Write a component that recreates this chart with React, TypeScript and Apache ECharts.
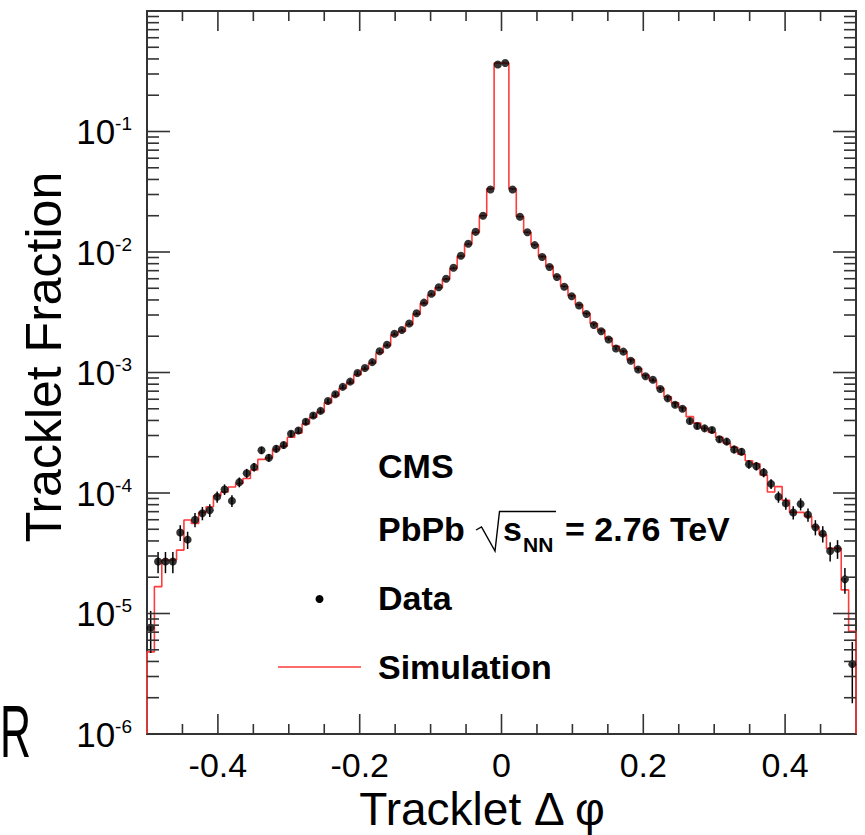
import React, { useEffect, useRef } from "react";
import * as echarts from "echarts";

const X_MIN = -0.5;
const X_MAX = 0.5;
const N_BINS = 96;
const Y_MIN = 1e-6;
const Y_MAX = 1;

const dataValues = [
  7.6e-6, 2.7e-5, 2.7e-5, 2.7e-5, 4.7e-5, 4.1e-5, 6.0e-5, 6.8e-5, 7.2e-5, 9.3e-5,
  1.07e-4, 8.6e-5, 1.23e-4, 1.46e-4, 1.64e-4, 2.26e-4, 1.96e-4, 2.33e-4, 2.5e-4, 3.1e-4,
  3.3e-4, 3.9e-4, 4.4e-4, 4.8e-4, 5.8e-4, 6.6e-4, 7.6e-4, 8.4e-4, 9.9e-4, 1.09e-3,
  1.22e-3, 1.5e-3, 1.7e-3, 2.1e-3, 2.25e-3, 2.55e-3, 3.1e-3, 3.8e-3, 4.5e-3, 5.1e-3,
  6.0e-3, 7.4e-3, 9.3e-3, 1.17e-2, 1.47e-2, 2.0e-2, 3.3e-2, 0.36, 0.37, 3.3e-2,
  1.96e-2, 1.46e-2, 1.14e-2, 9.1e-3, 7.5e-3, 6.2e-3, 5.15e-3, 4.3e-3, 3.6e-3, 3.06e-3,
  2.48e-3, 2.2e-3, 1.88e-3, 1.58e-3, 1.49e-3, 1.25e-3, 1.06e-3, 9.3e-4, 8.7e-4, 7.3e-4,
  6.1e-4, 5.4e-4, 5.0e-4, 3.96e-4, 3.6e-4, 3.44e-4, 3.33e-4, 2.79e-4, 2.67e-4, 2.3e-4,
  2.2e-4, 1.73e-4, 1.67e-4, 1.48e-4, 1.19e-4, 9.3e-5, 8.2e-5, 6.9e-5, 8.1e-5, 6.6e-5,
  5.2e-5, 4.6e-5, 3.3e-5, 3.45e-5, 1.92e-5, 3.8e-6,
];

const dataErrors = [
  2.9e-6, 5.4e-6, 5.4e-6, 5.4e-6, 7.1e-6, 6.7e-6, 8.1e-6, 8.6e-6, 8.8e-6, 1.0e-5,
  1.08e-5, 9.6e-6, 1.15e-5, 1.26e-5, 1.33e-5, 1.56e-5, 1.46e-5, 1.6e-5, 1.64e-5, 1.8e-5,
  1.9e-5, 2.1e-5, 2.2e-5, 2.3e-5, 2.5e-5, 2.7e-5, 2.9e-5, 3.0e-5, 3.3e-5, 3.4e-5,
  3.6e-5, 4.0e-5, 4.3e-5, 4.8e-5, 4.9e-5, 5.3e-5, 5.8e-5, 6.4e-5, 7.0e-5, 7.4e-5,
  8.1e-5, 9.0e-5, 1.0e-4, 1.1e-4, 1.3e-4, 1.5e-4, 1.9e-4, 6.2e-4, 6.3e-4, 1.9e-4,
  1.5e-4, 1.3e-4, 1.1e-4, 1.0e-4, 9.0e-5, 8.2e-5, 7.5e-5, 6.8e-5, 6.2e-5, 5.8e-5,
  5.2e-5, 4.9e-5, 4.5e-5, 4.1e-5, 4.0e-5, 3.7e-5, 3.4e-5, 3.2e-5, 3.1e-5, 2.8e-5,
  2.6e-5, 2.4e-5, 2.3e-5, 2.1e-5, 2.0e-5, 1.9e-5, 1.9e-5, 1.7e-5, 1.7e-5, 1.6e-5,
  1.5e-5, 1.4e-5, 1.3e-5, 1.3e-5, 1.1e-5, 1.0e-5, 9.4e-6, 8.6e-6, 9.4e-6, 8.4e-6,
  7.5e-6, 7.1e-6, 6.0e-6, 6.1e-6, 4.6e-6, 2.0e-6,
];

const simValues = [
  4.8e-6, 1.67e-5, 2.78e-5, 2.78e-5, 3.36e-5, 5.97e-5, 5.6e-5, 6.9e-5, 7.7e-5, 9.5e-5,
  1.02e-4, 1.12e-4, 1.2e-4, 1.32e-4, 1.55e-4, 1.9e-4, 1.95e-4, 2.3e-4, 2.45e-4, 2.9e-4,
  3.15e-4, 3.75e-4, 4.25e-4, 4.7e-4, 5.6e-4, 6.4e-4, 7.4e-4, 8.2e-4, 9.6e-4, 1.07e-3,
  1.2e-3, 1.46e-3, 1.67e-3, 2.05e-3, 2.2e-3, 2.5e-3, 3.05e-3, 3.75e-3, 4.4e-3, 5.05e-3,
  5.95e-3, 7.3e-3, 9.2e-3, 1.16e-2, 1.45e-2, 2.0e-2, 3.35e-2, 0.37, 0.37, 3.35e-2,
  1.97e-2, 1.46e-2, 1.15e-2, 9.2e-3, 7.6e-3, 6.3e-3, 5.2e-3, 4.35e-3, 3.65e-3, 3.1e-3,
  2.55e-3, 2.25e-3, 1.92e-3, 1.65e-3, 1.5e-3, 1.28e-3, 1.08e-3, 9.5e-4, 8.6e-4, 7.4e-4,
  6.3e-4, 5.6e-4, 5.1e-4, 4.3e-4, 3.8e-4, 3.45e-4, 3.2e-4, 2.9e-4, 2.6e-4, 2.4e-4,
  2.1e-4, 1.85e-4, 1.75e-4, 1.41e-4, 1.02e-4, 1.13e-4, 8.7e-5, 6.9e-5, 6.9e-5, 6.4e-5,
  5.25e-5, 4.5e-5, 3.47e-5, 3.47e-5, 1.57e-5, 7.1e-6,
];

const xMajorTicks = [-0.4, -0.2, 0, 0.2, 0.4];
const xMinorTicks = [-0.45, -0.35, -0.3, -0.25, -0.15, -0.1, -0.05, 0.05, 0.1, 0.15, 0.25, 0.3, 0.35, 0.45];
const yDecades = [1e-6, 1e-5, 1e-4, 1e-3, 1e-2, 1e-1, 1];
const yMinorMultipliers = [2, 3, 4, 5, 6, 7, 8, 9];

const FONT = "Liberation Sans, Arial, Helvetica, sans-serif";
const AXIS_COLOR = "#333";
const SIM_COLOR = "#ff3b3b";

export default function App() {
  const ref = useRef<HTMLDivElement>(null);

  useEffect(() => {
    if (!ref.current) return;
    const chart = echarts.init(ref.current, null, { renderer: "svg" });

    const binWidth = (X_MAX - X_MIN) / N_BINS;
    const centers = dataValues.map((_, i) => X_MIN + (i + 0.5) * binWidth);

    const simLine: number[][] = [[X_MIN, Y_MIN]];
    simValues.forEach((v, i) => {
      simLine.push([X_MIN + i * binWidth, v]);
      simLine.push([X_MIN + (i + 1) * binWidth, v]);
    });
    simLine.push([X_MAX, Y_MIN]);

    const xTickData = [
      ...xMajorTicks.map((v) => [v, 1e-3, 1]),
      ...xMinorTicks.map((v) => [v, 1e-3, 0]),
    ];
    const yTickData: number[][] = [];
    yDecades.forEach((d) => {
      if (d < Y_MAX) yTickData.push([0, d, 1]);
      if (d < Y_MAX) yMinorMultipliers.forEach((m) => yTickData.push([0, d * m, 0]));
    });

    const tickStyle = { stroke: AXIS_COLOR, lineWidth: 1.6 };

    chart.setOption({
      animation: false,
      backgroundColor: "#fff",
      grid: {
        left: 147,
        right: 9,
        top: 11,
        bottom: 101,
        show: true,
        borderColor: AXIS_COLOR,
        borderWidth: 2,
        backgroundColor: "transparent",
      },
      xAxis: {
        type: "value",
        min: X_MIN,
        max: X_MAX,
        splitNumber: 5,
        axisLine: { show: false },
        axisTick: { show: false },
        splitLine: { show: false },
        axisLabel: {
          fontSize: 34,
          fontFamily: FONT,
          color: "#000",
          margin: 14,
          formatter: (v: number) => {
            if (Math.abs(v) > 0.49) return "";
            if (Math.abs(v) < 1e-9) return "0";
            return v.toFixed(1);
          },
        },
      },
      yAxis: {
        type: "log",
        logBase: 10,
        min: Y_MIN,
        max: Y_MAX,
        splitNumber: 6,
        axisLine: { show: false },
        axisTick: { show: false },
        splitLine: { show: false },
        axisLabel: {
          margin: 15,
          color: "#000",
          formatter: (v: number) => {
            const e = Math.round(Math.log10(v));
            if (e >= 0) return "";
            return `{b|10}{s|${e}}`;
          },
          rich: {
            b: { fontSize: 35, fontFamily: FONT, color: "#000" },
            s: { fontSize: 19, fontFamily: FONT, color: "#000", verticalAlign: "top" },
          },
        },
      },
      series: [
        {
          type: "line",
          data: simLine,
          showSymbol: false,
          symbol: "none",
          lineStyle: { color: SIM_COLOR, width: 1.6 },
          clip: true,
          z: 2,
        },
        {
          type: "custom",
          data: dataValues.map((v, i) => [centers[i], v, dataErrors[i]]),
          z: 3,
          renderItem: (_p: any, api: any) => {
            const x = api.value(0);
            const v = api.value(1);
            const e = api.value(2);
            const lo = Math.max(v - e, Y_MIN);
            const p1 = api.coord([x, lo]);
            const p2 = api.coord([x, v + e]);
            return {
              type: "line",
              shape: { x1: p1[0], y1: p1[1], x2: p2[0], y2: p2[1] },
              style: { stroke: "#000", lineWidth: 1.5 },
            };
          },
        },
        {
          type: "scatter",
          data: dataValues.map((v, i) => [centers[i], v]),
          symbol: "circle",
          symbolSize: 8,
          itemStyle: { color: "#000" },
          z: 4,
        },
        {
          type: "custom",
          data: xTickData,
          z: 5,
          renderItem: (_p: any, api: any) => {
            const v = api.value(0);
            const len = api.value(2) ? 20 : 10;
            const b = api.coord([v, Y_MIN]);
            const t = api.coord([v, Y_MAX]);
            return {
              type: "group",
              children: [
                { type: "line", shape: { x1: b[0], y1: b[1], x2: b[0], y2: b[1] - len }, style: tickStyle },
                { type: "line", shape: { x1: t[0], y1: t[1], x2: t[0], y2: t[1] + len }, style: tickStyle },
              ],
            };
          },
        },
        {
          type: "custom",
          data: yTickData,
          z: 5,
          renderItem: (_p: any, api: any) => {
            const v = api.value(1);
            const len = api.value(2) ? 23 : 12;
            const l = api.coord([X_MIN, v]);
            const r = api.coord([X_MAX, v]);
            return {
              type: "group",
              children: [
                { type: "line", shape: { x1: l[0], y1: l[1], x2: l[0] + len, y2: l[1] }, style: tickStyle },
                { type: "line", shape: { x1: r[0], y1: r[1], x2: r[0] - len, y2: r[1] }, style: tickStyle },
              ],
            };
          },
        },
      ],
      graphic: [
        {
          type: "text",
          x: 44,
          y: 357,
          rotation: Math.PI / 2,
          style: {
            text: "Tracklet Fraction",
            fontSize: 50,
            fontFamily: FONT,
            fill: "#000",
            textAlign: "center",
            textVerticalAlign: "middle",
          },
        },
        {
          type: "text",
          x: 482,
          y: 809,
          style: {
            text: "Tracklet \u0394 \u03c6",
            fontSize: 46,
            fontFamily: FONT,
            fill: "#000",
            textAlign: "center",
            textVerticalAlign: "middle",
          },
        },
        {
          type: "text",
          x: 0,
          y: 731,
          scaleX: 0.58,
          style: {
            text: "R",
            fontSize: 74,
            fontFamily: FONT,
            fill: "#000",
            textAlign: "left",
            textVerticalAlign: "middle",
          },
        },
        {
          type: "text",
          x: 378,
          y: 466,
          style: { text: "CMS", fontSize: 34, fontWeight: "bold", fontFamily: FONT, fill: "#000", textAlign: "left", textVerticalAlign: "middle" },
        },
        {
          type: "text",
          x: 378,
          y: 529,
          style: { text: "PbPb", fontSize: 34, fontWeight: "bold", fontFamily: FONT, fill: "#000", textAlign: "left", textVerticalAlign: "middle" },
        },
        {
          type: "polyline",
          shape: { points: [[476, 530], [481.5, 527], [495, 551], [499.5, 511.5], [556, 511.5]] },
          style: { stroke: "#000", lineWidth: 1.4, fill: null },
        },
        {
          type: "text",
          x: 503,
          y: 529,
          style: { text: "s", fontSize: 34, fontWeight: "bold", fontFamily: FONT, fill: "#000", textAlign: "left", textVerticalAlign: "middle" },
        },
        {
          type: "text",
          x: 523,
          y: 544,
          style: { text: "NN", fontSize: 21, fontWeight: "bold", fontFamily: FONT, fill: "#000", textAlign: "left", textVerticalAlign: "middle" },
        },
        {
          type: "text",
          x: 565,
          y: 529,
          style: { text: "= 2.76 TeV", fontSize: 34, fontWeight: "bold", fontFamily: FONT, fill: "#000", textAlign: "left", textVerticalAlign: "middle" },
        },
        {
          type: "circle",
          shape: { cx: 319.5, cy: 599, r: 4 },
          style: { fill: "#000" },
        },
        {
          type: "text",
          x: 378,
          y: 598,
          style: { text: "Data", fontSize: 34, fontWeight: "bold", fontFamily: FONT, fill: "#000", textAlign: "left", textVerticalAlign: "middle" },
        },
        {
          type: "line",
          shape: { x1: 278, y1: 667, x2: 361, y2: 667 },
          style: { stroke: SIM_COLOR, lineWidth: 1.6 },
        },
        {
          type: "text",
          x: 378,
          y: 667,
          style: { text: "Simulation", fontSize: 34, fontWeight: "bold", fontFamily: FONT, fill: "#000", textAlign: "left", textVerticalAlign: "middle" },
        },
      ],
    });

    return () => chart.dispose();
  }, []);

  return (
    <div
      ref={ref}
      style={{ position: "fixed", left: 0, top: 0, width: 865, height: 835, background: "#fff" }}
    />
  );
}
